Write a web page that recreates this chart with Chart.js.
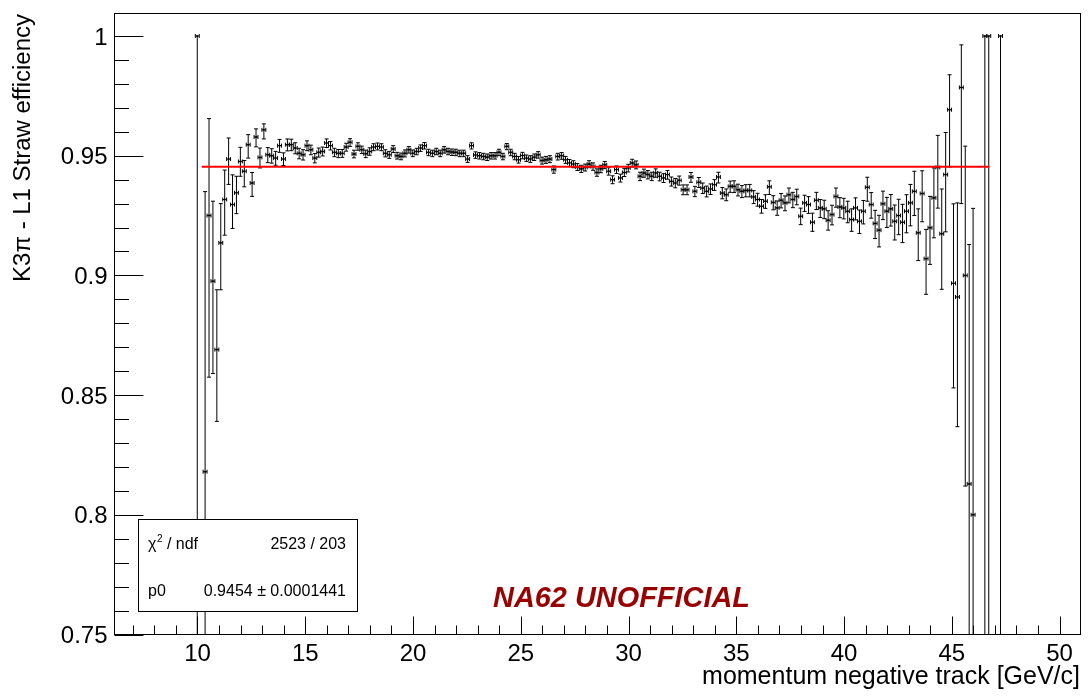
<!DOCTYPE html>
<html>
<head>
<meta charset="utf-8">
<title>K3pi - L1 Straw efficiency</title>
<script src="https://cdn.jsdelivr.net/npm/chart.js@4/dist/chart.umd.min.js"></script>
<style>
  html, body { margin: 0; padding: 0; background: #ffffff; }
  canvas { display: block; }
</style>
</head>
<body>
<canvas id="eff" width="1088" height="696"></canvas>
<script>
// ---- histogram binning (momentum of the negative track, GeV/c) ----
const firstBinCentre = 9.99;
const binWidth = 0.1818;

// ---- efficiency per bin (null = empty bin) ----
const efficiency = [
  1.0, null, 0.818, 0.925, 0.8976, 0.869, 0.9136, 0.9317, 0.9486, 0.9296,
  0.9345, 0.9476, 0.9435, 0.9546, 0.9386, 0.9578, 0.9493, 0.9608, 0.9504, 0.9500,
  0.9490, 0.9542, 0.9486, 0.9546, 0.9546, 0.9532, 0.9510, 0.9504, 0.9542, 0.9525,
  0.9490, 0.9514, 0.9518, 0.9553, 0.9542, 0.9514, 0.9510, 0.9510, 0.9536, 0.9556,
  0.9507, 0.9539, 0.9525, 0.9508, 0.9518, 0.9536, 0.9539, 0.9536, 0.9510, 0.9504,
  0.9528, 0.9500, 0.9497, 0.9510, 0.9525, 0.9510, 0.9518, 0.9532, 0.9542, 0.9514,
  0.9510, 0.9518, 0.9510, 0.9525, 0.9518, 0.9515, 0.9514, 0.9510, 0.9510, 0.9486,
  0.9542, 0.9503, 0.9500, 0.9497, 0.9494, 0.9500, 0.9500, 0.9514, 0.9497, 0.9539,
  0.9514, 0.9497, 0.9483, 0.9501, 0.9490, 0.9486, 0.9494, 0.9504, 0.9480, 0.9483,
  0.9486, 0.9442, 0.9497, 0.9500, 0.9483, 0.9470, 0.9465, 0.9453, 0.9445, 0.9451,
  0.9465, 0.9455, 0.9430, 0.9445, 0.9462, 0.9435, 0.9400, 0.9442, 0.9407, 0.9430,
  0.9449, 0.9470, 0.9462, 0.9414, 0.9428, 0.9421, 0.9414, 0.9428, 0.9414, 0.9407,
  0.9421, 0.9393, 0.9386, 0.9397, 0.9358, 0.9358, 0.9411, 0.9351, 0.9389, 0.9365,
  0.9351, 0.9361, 0.9379, 0.9411, 0.9344, 0.9337, 0.9372, 0.9372, 0.9358, 0.9351,
  0.9355, 0.9355, 0.9328, 0.9317, 0.9289, 0.9310, 0.9370, 0.9305, 0.9282, 0.9314,
  0.9303, 0.9337, 0.9317, 0.9330, 0.9247, 0.9303, 0.9296, 0.9222, 0.9314, 0.9282,
  0.9278, 0.9230, 0.9254, 0.9330, 0.9286, 0.9282, 0.9268, 0.9233, 0.9282, 0.9226,
  0.9268, 0.9368, 0.9296, 0.9217, 0.9189, 0.9299, 0.9268, 0.9278, 0.9226, 0.9250,
  0.9222, 0.9268, 0.9303, 0.9351, 0.9178, 0.9342, 0.9070, 0.9199, 0.9324, 0.9451,
  0.9174, 0.9421, 0.9692, 0.8967, 0.8910, 0.9785, 0.9000, 0.8129, 0.8000, null,
  null, 1.0, 1.0, null, null, 1.0
];

// ---- asymmetric uncertainties (upper / lower) ----
const errUp = [
  0, null, 0.117, 0.0405, 0.0334, 0.025, 0.0164, 0.0123, 0.0088, 0.0124,
  0.0069, 0.0059, 0.0045, 0.0042, 0.0044, 0.0034, 0.0039, 0.0025, 0.0030, 0.0029,
  0.0028, 0.0026, 0.0026, 0.0024, 0.0023, 0.0022, 0.0021, 0.0021, 0.0020, 0.0019,
  0.0019, 0.0018, 0.0018, 0.0017, 0.0017, 0.0017, 0.0016, 0.0016, 0.0016, 0.0015,
  0.0016, 0.0015, 0.0015, 0.0015, 0.0015, 0.0014, 0.0014, 0.0014, 0.0015, 0.0014,
  0.0014, 0.0014, 0.0014, 0.0014, 0.0013, 0.0014, 0.0013, 0.0013, 0.0013, 0.0013,
  0.0013, 0.0013, 0.0013, 0.0013, 0.0013, 0.0013, 0.0013, 0.0013, 0.0013, 0.0014,
  0.0012, 0.0013, 0.0013, 0.0013, 0.0013, 0.0013, 0.0013, 0.0013, 0.0013, 0.0012,
  0.0013, 0.0013, 0.0014, 0.0013, 0.0013, 0.0014, 0.0013, 0.0013, 0.0014, 0.0014,
  0.0014, 0.0015, 0.0013, 0.0013, 0.0014, 0.0014, 0.0014, 0.0014, 0.0015, 0.0014,
  0.0014, 0.0015, 0.0015, 0.0015, 0.0014, 0.0015, 0.0016, 0.0015, 0.0016, 0.0016,
  0.0015, 0.0015, 0.0016, 0.0017, 0.0016, 0.0017, 0.0017, 0.0017, 0.0017, 0.0018,
  0.0017, 0.0018, 0.0019, 0.0018, 0.0020, 0.0020, 0.0019, 0.0021, 0.0020, 0.0021,
  0.0022, 0.0021, 0.0021, 0.0020, 0.0023, 0.0024, 0.0022, 0.0023, 0.0023, 0.0024,
  0.0024, 0.0025, 0.0026, 0.0026, 0.0028, 0.0027, 0.0025, 0.0028, 0.0029, 0.0028,
  0.0029, 0.0028, 0.0030, 0.0030, 0.0034, 0.0032, 0.0033, 0.0038, 0.0033, 0.0035,
  0.0036, 0.0040, 0.0039, 0.0035, 0.0039, 0.0040, 0.0042, 0.0045, 0.0042, 0.0047,
  0.0045, 0.0042, 0.0050, 0.0055, 0.0062, 0.0053, 0.0058, 0.0060, 0.0068, 0.0068,
  0.0075, 0.0069, 0.0077, 0.0084, 0.0100, 0.0095, 0.0122, 0.0131, 0.0125, 0.0134,
  0.0187, 0.0176, 0.0146, 0.0332, 0.0393, 0.0178, 0.054, 0.100, 0.128, null,
  null, 0, 0, null, null, 0
];
const errDown = [
  0.84, null, 0.2, 0.0675, 0.0386, 0.030, 0.0196, 0.0149, 0.0106, 0.0100,
  0.0087, 0.0062, 0.0065, 0.0056, 0.0056, 0.0041, 0.0044, 0.0038, 0.0033, 0.0031,
  0.0030, 0.0028, 0.0027, 0.0026, 0.0025, 0.0024, 0.0023, 0.0022, 0.0021, 0.0021,
  0.0020, 0.0020, 0.0019, 0.0019, 0.0018, 0.0018, 0.0018, 0.0017, 0.0017, 0.0017,
  0.0016, 0.0016, 0.0016, 0.0016, 0.0016, 0.0015, 0.0015, 0.0015, 0.0015, 0.0015,
  0.0015, 0.0014, 0.0014, 0.0015, 0.0014, 0.0014, 0.0014, 0.0014, 0.0014, 0.0014,
  0.0014, 0.0014, 0.0014, 0.0014, 0.0014, 0.0014, 0.0014, 0.0014, 0.0014, 0.0014,
  0.0014, 0.0014, 0.0014, 0.0014, 0.0014, 0.0014, 0.0014, 0.0014, 0.0014, 0.0014,
  0.0014, 0.0014, 0.0014, 0.0014, 0.0014, 0.0014, 0.0014, 0.0014, 0.0015, 0.0015,
  0.0015, 0.0015, 0.0015, 0.0015, 0.0015, 0.0015, 0.0015, 0.0015, 0.0015, 0.0015,
  0.0015, 0.0016, 0.0016, 0.0016, 0.0016, 0.0016, 0.0017, 0.0016, 0.0017, 0.0017,
  0.0017, 0.0017, 0.0017, 0.0018, 0.0018, 0.0018, 0.0018, 0.0018, 0.0019, 0.0019,
  0.0019, 0.0020, 0.0020, 0.0020, 0.0021, 0.0021, 0.0022, 0.0022, 0.0022, 0.0023,
  0.0023, 0.0023, 0.0024, 0.0025, 0.0024, 0.0025, 0.0025, 0.0026, 0.0026, 0.0026,
  0.0027, 0.0027, 0.0028, 0.0028, 0.0029, 0.0030, 0.0032, 0.0031, 0.0031, 0.0032,
  0.0033, 0.0034, 0.0034, 0.0035, 0.0035, 0.0036, 0.0037, 0.0038, 0.0039, 0.0040,
  0.0041, 0.0041, 0.0043, 0.0045, 0.0045, 0.0046, 0.0048, 0.0049, 0.0050, 0.0051,
  0.0053, 0.0058, 0.0057, 0.0063, 0.0070, 0.0066, 0.0068, 0.0072, 0.0078, 0.0080,
  0.0085, 0.0090, 0.0096, 0.0101, 0.0116, 0.0118, 0.0149, 0.0153, 0.0167, 0.0170,
  0.0232, 0.0239, 0.0239, 0.0437, 0.0542, 0.0485, 0.088, 0.2, 0.2, null,
  null, 0.84, 0.84, null, null, 0.84
];

// ---- constant fit (pol0) ----
const fitRange = [10.2, 46.74];
const fitP0 = 0.9454;
const fitP0Err = 0.0001441;
const fitChi2 = 2523;
const fitNdf = 203;

// ---- axes ----
const xRange = [6.15, 50.97];
const yRange = [0.75, 1.0094];
const xMajorTicks = [10, 15, 20, 25, 30, 35, 40, 45, 50];
const xTickLabels = ['10', '15', '20', '25', '30', '35', '40', '45', '50'];
const xMinorTicks = [7, 8, 9, 11, 12, 13, 14, 16, 17, 18, 19, 21, 22, 23, 24, 26, 27, 28, 29,
  31, 32, 33, 34, 36, 37, 38, 39, 41, 42, 43, 44, 46, 47, 48, 49];
const yMajorTicks = [0.75, 0.8, 0.85, 0.9, 0.95, 1.0];
const yTickLabels = ['0.75', '0.8', '0.85', '0.9', '0.95', '1'];
const yMinorTicks = [0.76, 0.77, 0.78, 0.79, 0.81, 0.82, 0.83, 0.84, 0.86, 0.87, 0.88, 0.89,
  0.91, 0.92, 0.93, 0.94, 0.96, 0.97, 0.98, 0.99];
const xTitle = 'momentum negative track [GeV/c]';
const yTitle = 'K3\u03C0 - L1 Straw efficiency';
const stampText = 'NA62 UNOFFICIAL';

const FONT = '"Liberation Sans", Arial, Helvetica, sans-serif';

// points of the efficiency graph
const points = [];
efficiency.forEach((v, k) => {
  if (v === null) return;
  points.push({ x: firstBinCentre + k * binWidth, y: v, up: errUp[k], down: errDown[k] });
});

function fitFont(ctx, text, style, targetWidth) {
  ctx.font = style + ' 24px ' + FONT;
  const w = ctx.measureText(text).width;
  return 24 * targetWidth / w;
}

// error bars underneath the markers
const errorBars = {
  id: 'errorBars',
  beforeDatasetsDraw(chart) {
    const { ctx, chartArea: a, scales: { x, y } } = chart;
    ctx.save();
    ctx.beginPath();
    ctx.rect(a.left, a.top, a.right - a.left, a.bottom - a.top);
    ctx.clip();
    ctx.strokeStyle = '#000';
    ctx.lineWidth = 1;
    const cap = 2;
    ctx.beginPath();
    points.forEach(p => {
      const px = x.getPixelForValue(p.x);
      const py = y.getPixelForValue(p.y);
      const xl = x.getPixelForValue(p.x - binWidth / 2);
      const xr = x.getPixelForValue(p.x + binWidth / 2);
      const yt = y.getPixelForValue(p.y + p.up);
      const yb = y.getPixelForValue(p.y - p.down);
      // horizontal bar with end caps
      ctx.moveTo(xl, py); ctx.lineTo(xr, py);
      ctx.moveTo(xl, py - cap); ctx.lineTo(xl, py + cap);
      ctx.moveTo(xr, py - cap); ctx.lineTo(xr, py + cap);
      // vertical bar with end caps
      if (p.up > 0) {
        ctx.moveTo(px, py); ctx.lineTo(px, yt);
        ctx.moveTo(px - cap, yt); ctx.lineTo(px + cap, yt);
      }
      if (p.down > 0) {
        ctx.moveTo(px, py); ctx.lineTo(px, yb);
        ctx.moveTo(px - cap, yb); ctx.lineTo(px + cap, yb);
      }
    });
    ctx.stroke();
    ctx.restore();
  }
};

// frame, ticks, labels, fit box and stamp
const decorations = {
  id: 'decorations',
  beforeDraw(chart) {
    const { ctx, width, height } = chart;
    ctx.save();
    ctx.fillStyle = '#fff';
    ctx.fillRect(0, 0, width, height);
    ctx.restore();
  },
  afterDatasetsDraw(chart) {
    const { ctx, chartArea: a, scales: { x, y } } = chart;
    ctx.save();

    // fit statistics box
    const bx = 138.5, by = 519.5, bw = 219, bh = 92;
    ctx.fillStyle = '#fff';
    ctx.fillRect(bx, by, bw, bh);
    ctx.strokeStyle = '#000';
    ctx.lineWidth = 1;
    ctx.strokeRect(bx, by, bw, bh);
    ctx.fillStyle = '#000';
    ctx.font = '16px ' + FONT;
    ctx.textBaseline = 'alphabetic';
    ctx.textAlign = 'left';
    ctx.fillText('\u03C7', 148, 549);
    const chiW = ctx.measureText('\u03C7').width;
    ctx.font = '10px ' + FONT;
    ctx.fillText('2', 148 + chiW + 0.5, 542);
    const twoW = ctx.measureText('2').width;
    ctx.font = '16px ' + FONT;
    ctx.fillText(' / ndf', 148 + chiW + twoW + 0.5, 549);
    ctx.fillText('p0', 148, 596);
    ctx.textAlign = 'right';
    ctx.fillText(fitChi2 + ' / ' + fitNdf, 346, 549);
    ctx.fillText(fitP0.toFixed(4) + ' \u00B1 ' + fitP0Err.toFixed(7), 346, 596);

    // stamp
    const sSize = fitFont(ctx, stampText, 'italic bold', 257);
    ctx.font = 'italic bold ' + sSize.toFixed(2) + 'px ' + FONT;
    ctx.fillStyle = '#990000';
    ctx.textAlign = 'left';
    ctx.fillText(stampText, 493, 607);

    // frame
    ctx.strokeStyle = '#000';
    ctx.lineWidth = 1;
    ctx.strokeRect(a.left, a.top, a.right - a.left, a.bottom - a.top);

    // ticks (drawn inwards from the left and bottom axes)
    ctx.beginPath();
    xMajorTicks.forEach(v => {
      const px = Math.round(x.getPixelForValue(v)) + 0.5;
      ctx.moveTo(px, a.bottom); ctx.lineTo(px, a.bottom - 18);
    });
    xMinorTicks.forEach(v => {
      const px = Math.round(x.getPixelForValue(v)) + 0.5;
      ctx.moveTo(px, a.bottom); ctx.lineTo(px, a.bottom - 9);
    });
    yMajorTicks.forEach(v => {
      const py = Math.round(y.getPixelForValue(v)) + 0.5;
      ctx.moveTo(a.left, py); ctx.lineTo(a.left + 29, py);
    });
    yMinorTicks.forEach(v => {
      const py = Math.round(y.getPixelForValue(v)) + 0.5;
      ctx.moveTo(a.left, py); ctx.lineTo(a.left + 14.5, py);
    });
    ctx.stroke();

    // tick labels
    ctx.fillStyle = '#000';
    ctx.font = '24px ' + FONT;
    ctx.textBaseline = 'alphabetic';
    ctx.textAlign = 'center';
    xMajorTicks.forEach((v, i) => {
      ctx.fillText(xTickLabels[i], x.getPixelForValue(v), 661);
    });
    ctx.textAlign = 'right';
    yMajorTicks.forEach((v, i) => {
      ctx.fillText(yTickLabels[i], 107.5, y.getPixelForValue(v) + 8.5);
    });

    // axis titles
    const xs = fitFont(ctx, xTitle, '', 378);
    ctx.font = xs.toFixed(2) + 'px ' + FONT;
    ctx.textAlign = 'right';
    ctx.fillText(xTitle, 1080, 684);

    const ys = fitFont(ctx, yTitle, '', 268);
    ctx.font = ys.toFixed(2) + 'px ' + FONT;
    ctx.translate(30, 14);
    ctx.rotate(-Math.PI / 2);
    ctx.textAlign = 'right';
    ctx.fillText(yTitle, 0, 0);

    ctx.restore();
  }
};

new Chart(document.getElementById('eff'), {
  type: 'scatter',
  data: {
    datasets: [
      {
        type: 'line',
        label: 'pol0 fit',
        data: [{ x: fitRange[0], y: fitP0 }, { x: fitRange[1], y: fitP0 }],
        borderColor: '#ff0000',
        borderWidth: 2,
        pointRadius: 0,
        fill: false
      },
      {
        type: 'scatter',
        label: 'efficiency',
        data: points,
        pointRadius: 1,
        pointBorderWidth: 0,
        pointBackgroundColor: '#000',
        pointBorderColor: '#000'
      }
    ]
  },
  options: {
    responsive: false,
    animation: false,
    devicePixelRatio: 1,
    layout: { padding: { left: 114.5, right: 7.5, top: 13.5, bottom: 61.5 } },
    plugins: { legend: { display: false }, tooltip: { enabled: false } },
    scales: {
      x: { type: 'linear', min: xRange[0], max: xRange[1], display: false },
      y: { type: 'linear', min: yRange[0], max: yRange[1], display: false }
    }
  },
  plugins: [errorBars, decorations]
});
</script>
</body>
</html>
